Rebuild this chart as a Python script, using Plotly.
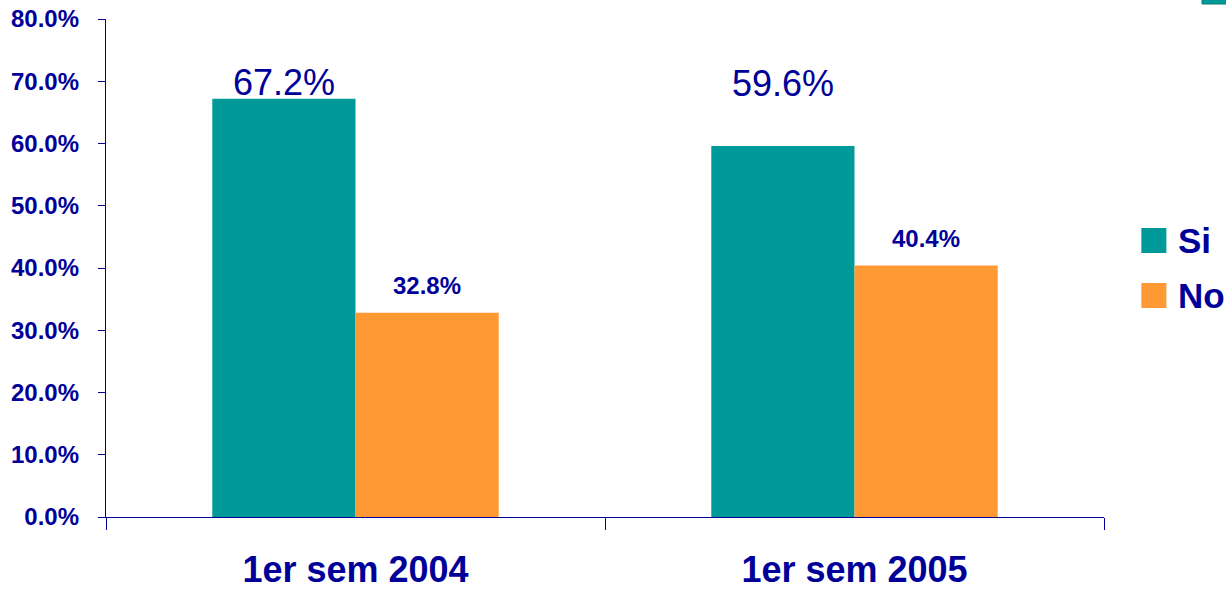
import plotly.graph_objects as go

# Data
categories = ["1er sem 2004", "1er sem 2005"]
series_names = ["Si", "No"]
si_values = [67.2, 59.6]
no_values = [32.8, 40.4]

# Style
NAVY = "#000099"
COLORS = {"Si": "#009999", "No": "#FF9933"}
FONT = "Liberation Sans, Arial, sans-serif"
BARGAP = 0.426

fig = go.Figure()
for name, vals in zip(series_names, [si_values, no_values]):
    fig.add_trace(go.Bar(
        x=categories, y=vals, name=name,
        marker=dict(color=COLORS[name], line=dict(width=0)),
        showlegend=False,
    ))

# Value labels above the bars
half = (1 - BARGAP) / 4.0
si_shift = [0, 46]
for i, v in enumerate(si_values):
    fig.add_annotation(
        x=i - half, y=v, xref="x", yref="y", text=f"{v:.1f}%",
        showarrow=False, yanchor="bottom", yshift=si_shift[i] - 6,
        font=dict(family=FONT, size=36, color=NAVY),
    )
for i, v in enumerate(no_values):
    fig.add_annotation(
        x=i + half, y=v, xref="x", yref="y", text=f"<b>{v:.1f}%</b>",
        showarrow=False, yanchor="bottom", yshift=12,
        font=dict(family=FONT, size=24, color=NAVY),
    )

# Legend drawn at the right side
for k, name in enumerate(series_names):
    y0 = 1 - (228 + 55 * k) / 498.0 + 19 / 498.0
    fig.add_shape(
        type="rect", xref="paper", yref="paper",
        x0=1.0374, x1=1.0625, y0=y0 - 25 / 498.0, y1=y0,
        fillcolor=COLORS[name], line=dict(width=0),
    )
    fig.add_annotation(
        xref="paper", yref="paper", x=1.072, y=y0 - 12.5 / 498.0,
        text=f"<b>{name}</b>", showarrow=False, xanchor="left", yanchor="middle",
        font=dict(family=FONT, size=35, color=NAVY),
    )

# Small teal bar at the top-right corner
fig.add_shape(
    type="rect", xref="paper", yref="paper",
    x0=(1202 - 106) / 998.0, x1=(1230 - 106) / 998.0,
    y0=(498 + 19 - 4) / 498.0, y1=(498 + 19 + 2) / 498.0,
    fillcolor="#009999", line=dict(color="#007a7a", width=1),
)

fig.update_layout(
    width=1226, height=593,
    margin=dict(l=106, r=122, t=19, b=76),
    paper_bgcolor="white", plot_bgcolor="white",
    barmode="group", bargap=BARGAP, bargroupgap=0,
    font=dict(family=FONT, color=NAVY),
)
fig.update_xaxes(
    type="category", automargin=False,
    showline=True, linecolor=NAVY, linewidth=1.3,
    ticks="outside", tickson="boundaries", ticklen=12, tickcolor=NAVY, tickwidth=1.3,
    tickfont=dict(family=FONT, size=36, color=NAVY),
    tickprefix="<b>", ticksuffix="</b>",
    ticklabelstandoff=21,
    showgrid=False, zeroline=False,
)
fig.update_yaxes(
    range=[0, 80], dtick=10, automargin=False,
    showline=True, linecolor=NAVY, linewidth=1.3,
    ticks="outside", ticklen=7, tickcolor=NAVY, tickwidth=1.3,
    tickformat=".1f", ticksuffix="%</b>", tickprefix="<b>",
    tickfont=dict(family=FONT, size=24, color=NAVY),
    ticklabelstandoff=14,
    showgrid=False, zeroline=False,
)

fig.write_html("out.html")
